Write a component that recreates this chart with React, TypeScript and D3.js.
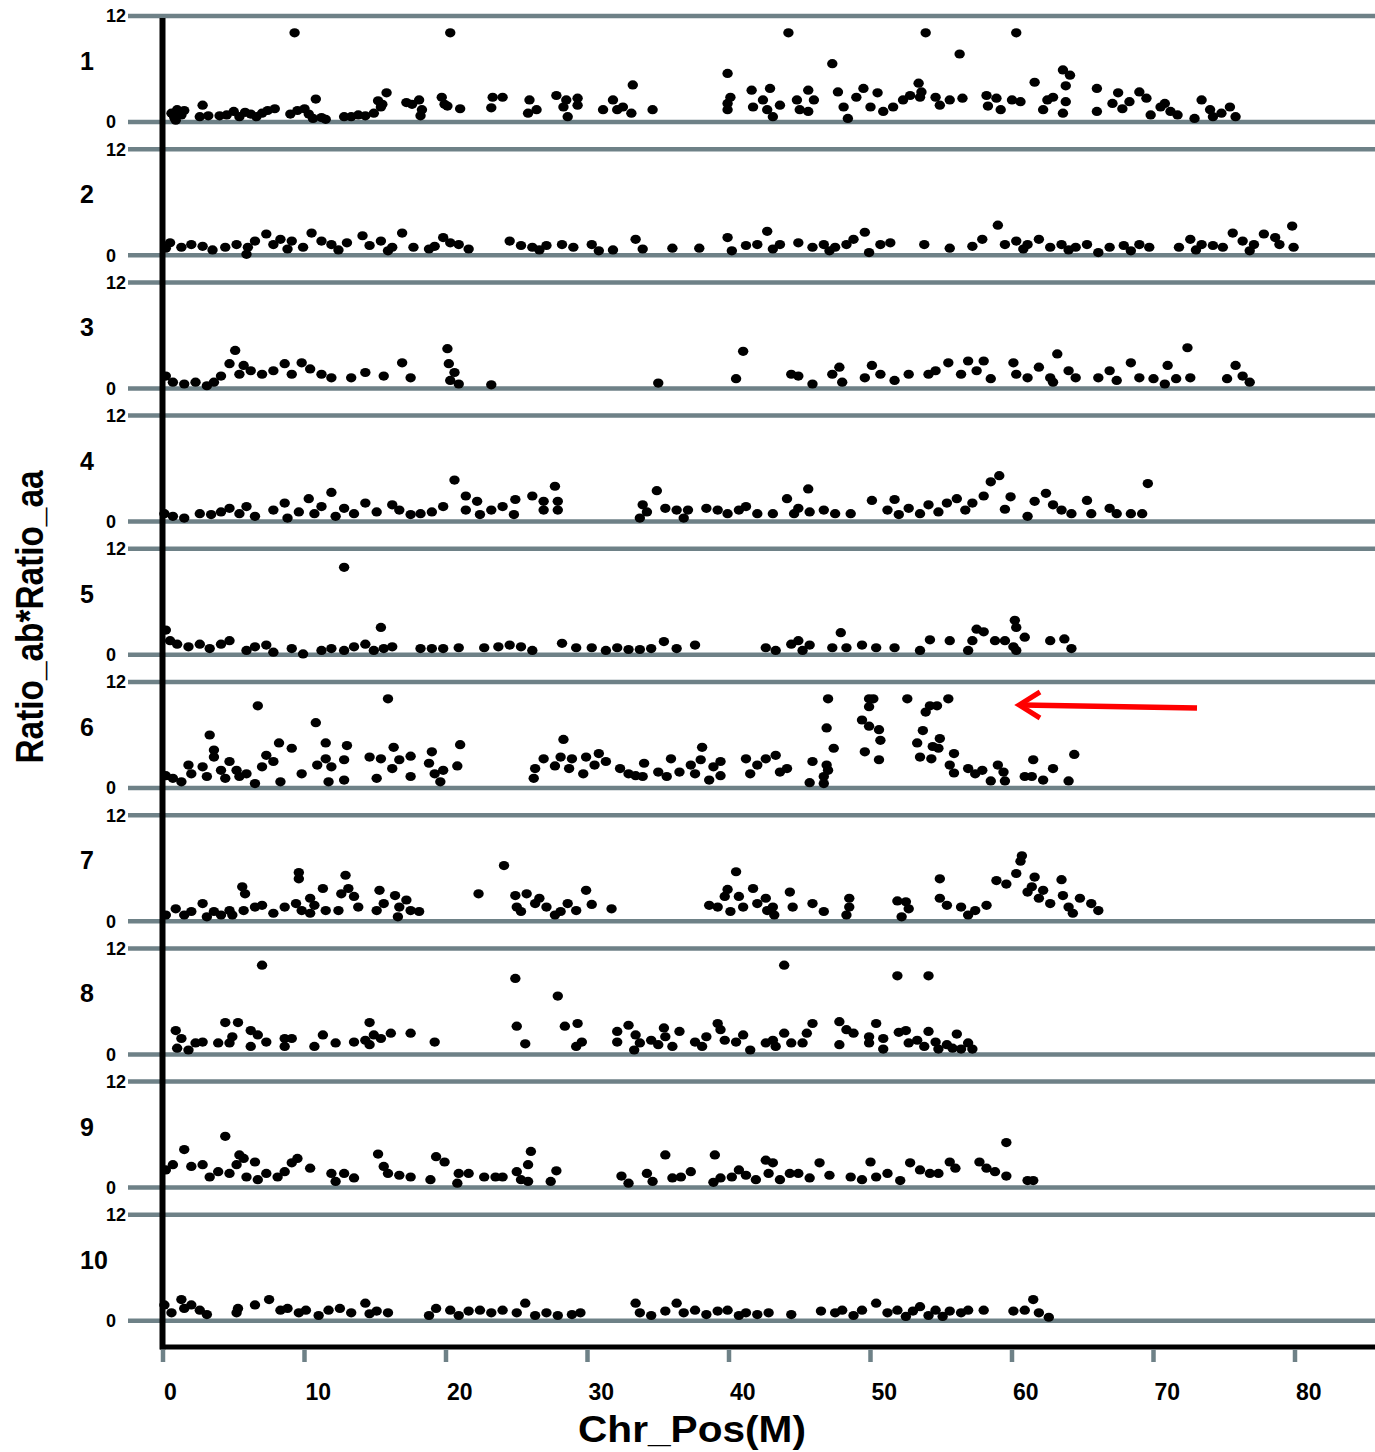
import React from "react";
import * as d3 from "d3";

// chromosome panels: [position (M), Ratio_ab*Ratio_aa]
const chr1: [number, number][] = [
  [0.6, 1.0], [0.8, 0.5], [1.0, 1.4], [1.3, 0.8], [1.5, 1.3], [0.9, 0.2], [2.8, 1.9], [2.6, 0.6], [3.2, 0.7],
  [4.0, 0.7], [4.5, 0.8], [5.0, 1.2], [5.4, 0.6], [5.8, 1.1], [6.2, 0.9], [6.6, 0.6], [7.0, 1.0], [7.4, 1.3], [7.9, 1.5],
  [9.0, 0.9], [9.3, 10.1], [9.5, 1.3], [10.0, 1.5], [10.3, 0.9], [10.6, 0.4], [10.8, 2.6], [11.2, 0.5], [11.5, 0.3],
  [12.8, 0.6], [13.3, 0.6], [13.8, 0.8], [14.3, 0.7], [14.9, 1.0], [15.2, 2.4], [15.4, 1.7], [15.8, 3.3], [15.5, 2.0],
  [17.2, 2.2], [17.6, 2.0], [18.1, 2.5], [18.3, 1.4], [18.2, 0.7], [19.7, 2.8], [19.9, 2.0], [20.1, 1.8], [20.3, 10.1], [21.0, 1.5],
  [23.3, 2.8], [24.0, 2.8], [23.2, 1.6], [25.9, 2.5], [25.8, 1.0], [26.4, 1.4], [27.8, 3.0], [28.5, 2.5], [29.3, 2.7],
  [28.6, 0.6], [28.3, 1.7], [29.3, 1.9], [31.1, 1.4], [31.8, 2.5], [32.5, 1.7], [33.2, 4.2], [33.1, 1.0], [32.1, 1.4], [34.6, 1.4],
  [39.9, 5.5], [40.1, 2.8], [39.9, 1.4], [39.9, 2.1], [41.6, 3.6], [41.7, 1.7], [42.4, 2.5], [42.9, 3.8], [43.1, 0.6], [43.6, 1.9],
  [42.7, 1.4], [44.2, 10.1], [44.8, 2.5], [45.0, 1.4], [45.6, 3.6], [46.0, 2.5], [45.6, 1.2], [47.3, 6.6], [47.7, 3.4], [48.1, 1.7],
  [48.4, 0.4], [49.0, 2.8], [49.5, 3.8], [50.0, 1.7], [50.5, 3.3], [50.9, 1.2], [51.6, 1.7], [52.3, 2.5], [52.8, 3.0], [53.4, 4.4],
  [53.6, 3.4], [53.9, 10.1], [56.3, 7.7], [60.3, 10.1], [53.5, 2.8], [54.6, 2.8], [54.9, 1.9], [55.6, 2.5], [56.5, 2.7],
  [58.2, 3.0], [58.3, 1.8], [58.9, 2.7], [59.2, 1.4], [60.0, 2.5], [60.6, 2.3], [61.6, 4.5], [62.2, 1.4], [62.5, 2.5], [62.9, 2.8],
  [63.6, 5.9], [64.1, 5.3], [63.8, 4.1], [63.8, 2.3], [63.6, 1.0], [66.0, 3.8], [66.0, 1.2], [67.1, 2.1], [67.5, 3.3], [67.8, 1.5],
  [68.3, 2.3], [69.0, 3.4], [69.5, 2.7], [69.8, 0.8], [70.5, 1.7], [70.8, 2.1], [71.2, 1.2], [71.7, 0.8], [72.9, 0.4], [73.4, 2.5],
  [74.0, 1.4], [74.2, 0.6], [74.8, 1.0], [75.4, 1.7], [75.8, 0.6],
];

const chr2: [number, number][] = [
  [0.5, 1.4], [1.3, 0.9], [2.0, 1.2], [2.8, 1.0], [4.4, 0.9], [5.2, 1.2], [5.9, 0.1], [6.5, 1.6], [7.3, 2.4], [7.8, 1.2],
  [8.3, 1.8], [9.1, 1.6], [9.9, 0.9], [10.5, 2.5], [11.2, 1.6], [11.9, 1.2], [13.0, 1.4], [14.1, 2.2], [14.6, 1.1], [15.4, 1.6],
  [16.2, 0.9], [16.9, 2.5], [17.7, 0.9], [18.8, 0.7], [19.8, 2.0], [20.3, 1.4], [20.9, 1.2], [21.6, 0.7], [24.5, 1.6], [25.3, 1.1],
  [26.1, 0.9], [27.1, 1.1], [28.2, 1.2], [29.0, 0.9], [30.3, 1.2], [30.8, 0.5], [31.8, 0.6], [33.4, 1.8], [33.9, 0.7], [36.0, 0.8],
  [37.9, 0.8], [39.9, 2.0], [40.2, 0.5], [41.2, 1.1], [42.0, 1.2], [42.7, 2.7], [43.6, 1.2], [44.9, 1.4], [45.9, 0.9], [46.7, 1.2],
  [47.5, 0.9], [48.3, 1.2], [48.8, 1.8], [49.6, 2.6], [49.9, 0.3], [50.7, 1.2], [51.4, 1.4], [53.8, 1.2], [55.6, 0.8], [57.2, 1.0],
  [57.9, 1.8], [59.0, 3.4], [59.5, 1.2], [60.3, 1.6], [61.1, 1.2], [61.9, 1.8], [62.7, 0.9], [63.5, 1.2], [64.5, 0.9], [65.3, 1.2],
  [66.1, 0.3], [66.9, 0.9], [67.9, 1.1], [69.0, 1.2], [69.7, 0.9], [71.8, 0.9], [72.6, 1.8], [73.4, 1.2], [74.2, 1.1], [74.9, 0.9],
  [75.6, 2.5], [76.3, 1.6], [77.1, 1.2], [77.8, 2.4], [78.6, 2.0], [78.9, 1.2], [79.8, 3.3], [79.9, 0.9],
  [0.2, 0.8], [3.5, 0.6], [6.0, 0.9], [8.8, 0.7], [12.4, 0.6], [15.9, 0.5], [19.2, 1.0], [26.6, 0.6], [43.1, 0.7], [47.1, 0.5],
  [60.8, 0.7], [64.0, 0.6], [68.4, 0.5], [73.0, 0.6], [76.8, 0.5],
];

const chr3: [number, number][] = [
  [0.2, 1.4], [0.7, 0.7], [1.5, 0.5], [2.3, 0.7], [3.1, 0.3], [3.6, 0.7], [4.1, 1.4], [4.7, 2.8], [5.1, 4.3], [5.4, 1.6],
  [5.7, 2.6], [6.2, 2.0], [7.0, 1.6], [7.8, 2.0], [8.6, 2.8], [9.1, 1.6], [9.8, 2.9], [10.4, 2.2], [11.2, 1.6], [11.9, 1.2],
  [13.3, 1.2], [14.3, 1.8], [15.6, 1.4], [16.9, 2.9], [17.5, 1.2], [20.1, 4.5], [20.2, 2.8], [20.6, 1.8], [20.3, 0.9], [20.9, 0.5],
  [23.2, 0.4], [35.0, 0.6], [41.0, 4.2], [40.5, 1.1], [44.4, 1.6], [44.9, 1.4], [45.9, 0.5], [47.3, 1.6], [47.8, 2.4], [48.0, 0.7],
  [49.6, 1.2], [50.1, 2.6], [50.7, 1.6], [51.7, 0.9], [52.7, 1.6], [54.1, 1.6], [54.6, 2.0], [55.5, 2.9], [56.4, 1.6], [56.9, 3.1],
  [58.0, 3.1], [57.5, 2.0], [58.5, 1.1], [60.1, 2.9], [60.3, 1.6], [61.1, 1.2], [61.9, 2.4], [62.7, 1.2], [63.2, 3.9], [62.9, 0.7],
  [64.0, 2.0], [64.5, 1.2], [66.1, 1.2], [66.9, 2.0], [67.4, 0.9], [68.4, 2.9], [69.0, 1.2], [70.0, 1.1], [71.0, 2.6], [70.8, 0.5],
  [71.6, 1.1], [72.4, 4.6], [72.6, 1.2], [75.2, 1.1], [75.8, 2.6], [76.3, 1.4], [76.8, 0.7],
];

const chr4: [number, number][] = [
  [0.1, 0.9], [0.7, 0.6], [1.5, 0.4], [2.6, 0.9], [3.4, 0.8], [4.1, 1.1], [4.7, 1.5], [5.4, 0.9], [5.9, 1.7], [6.5, 0.6],
  [7.8, 1.3], [8.6, 2.1], [8.8, 0.4], [9.6, 1.1], [10.3, 2.6], [10.7, 0.9], [11.2, 1.7], [11.9, 3.3], [12.2, 0.6], [12.8, 1.5],
  [13.5, 0.9], [14.3, 2.1], [15.1, 1.1], [16.2, 1.9], [16.7, 1.3], [17.5, 0.8], [18.2, 0.9], [19.0, 1.1], [19.8, 1.7], [20.6, 4.7],
  [21.4, 2.9], [21.4, 1.3], [22.2, 2.3], [22.4, 0.8], [23.2, 1.3], [24.0, 1.7], [24.9, 2.5], [24.8, 0.8], [26.1, 2.9], [26.9, 2.3],
  [26.9, 1.3], [27.7, 4.0], [27.9, 2.3], [27.9, 1.3], [33.7, 0.4], [33.9, 1.9], [34.2, 1.1], [34.9, 3.5], [35.5, 1.5], [36.3, 1.3],
  [36.8, 0.4], [37.1, 1.3], [38.4, 1.5], [39.2, 1.3], [39.9, 0.9], [40.7, 1.3], [41.2, 1.7], [42.0, 0.9], [43.1, 0.9], [44.1, 2.6],
  [44.6, 0.9], [44.9, 1.5], [45.6, 3.7], [45.7, 1.1], [46.7, 1.3], [47.5, 0.9], [48.6, 0.9], [50.1, 2.4], [51.2, 1.3], [51.7, 2.5],
  [52.0, 0.8], [52.7, 1.5], [53.5, 0.9], [54.1, 1.9], [54.8, 1.1], [55.4, 2.1], [56.1, 2.6], [56.7, 1.3], [57.2, 2.1], [58.0, 2.9],
  [58.5, 4.5], [59.1, 5.2], [59.5, 1.4], [59.9, 2.8], [61.1, 0.6], [61.6, 2.3], [62.4, 3.2], [62.9, 1.9], [63.5, 1.3], [64.2, 0.9],
  [65.3, 2.4], [65.6, 0.9], [66.9, 1.5], [67.4, 0.9], [68.4, 0.9], [69.2, 0.9], [69.6, 4.3],
];

const chr5: [number, number][] = [
  [0.2, 2.8], [0.5, 1.6], [1.0, 1.2], [1.8, 0.9], [2.6, 1.2], [3.3, 0.7], [4.1, 1.2], [4.7, 1.6], [5.9, 0.5], [6.5, 0.9],
  [7.3, 1.1], [7.8, 0.3], [9.1, 0.7], [9.9, 0.1], [11.2, 0.5], [11.9, 0.7], [12.8, 9.9], [12.8, 0.5], [13.5, 0.9], [14.3, 1.2],
  [14.9, 0.5], [15.4, 3.1], [15.6, 0.7], [16.2, 0.9], [18.2, 0.7], [19.0, 0.7], [19.8, 0.7], [20.9, 0.8], [22.7, 0.8], [23.7, 0.9],
  [24.5, 1.1], [25.3, 0.9], [26.1, 0.5], [28.2, 1.3], [29.2, 0.8], [30.3, 0.8], [31.3, 0.5], [32.1, 0.8], [32.9, 0.6], [33.7, 0.6],
  [34.5, 0.7], [35.4, 1.5], [36.3, 0.7], [37.6, 1.1], [42.6, 0.8], [43.3, 0.5], [44.4, 1.2], [44.9, 1.6], [45.2, 0.5], [45.7, 1.1],
  [47.3, 0.8], [47.9, 2.5], [48.3, 0.8], [49.4, 1.1], [50.4, 0.8], [51.7, 0.8], [53.5, 0.5], [54.2, 1.7], [55.6, 1.6], [56.9, 0.5],
  [57.2, 1.6], [57.5, 2.9], [58.0, 2.6], [58.8, 1.6], [59.5, 1.6], [60.1, 0.9], [60.2, 3.9], [60.3, 3.1], [60.9, 2.0], [60.3, 0.5],
  [62.7, 1.6], [63.7, 1.8], [64.2, 0.7],
];

const chr6: [number, number][] = [
  [0.2, 1.4], [0.7, 1.1], [1.3, 0.7], [1.8, 2.6], [2.0, 1.6], [2.8, 2.4], [3.1, 1.3], [3.3, 6.0], [3.6, 4.3], [3.6, 3.5],
  [4.1, 2.0], [4.4, 1.1], [4.7, 3.0], [5.2, 2.0], [5.4, 1.3], [5.9, 1.6], [6.5, 0.5], [6.7, 9.3], [7.0, 2.4], [7.3, 3.7],
  [7.8, 3.0], [8.2, 5.1], [8.3, 0.7], [9.1, 4.5], [9.8, 1.6], [10.8, 7.4], [10.9, 2.6], [11.5, 5.1], [11.5, 3.3], [11.7, 0.7],
  [11.9, 2.4], [12.8, 3.2], [12.8, 0.9], [13.0, 4.8], [14.6, 3.5], [15.1, 1.1], [15.4, 3.3], [15.9, 10.1], [16.2, 2.2], [16.3, 4.6],
  [16.7, 3.2], [17.5, 3.6], [17.5, 1.3], [18.8, 2.8], [19.0, 4.1], [19.2, 1.6], [19.6, 0.7], [19.8, 2.0], [20.8, 2.5], [21.0, 4.9],
  [26.2, 1.1], [26.3, 2.2], [26.9, 3.3], [27.7, 2.5], [28.3, 5.5], [28.1, 3.5], [28.7, 2.2], [28.9, 3.3], [29.7, 1.6], [29.9, 3.5],
  [30.5, 2.6], [30.8, 3.9], [31.3, 3.0], [32.3, 2.2], [32.9, 1.6], [33.4, 1.4], [34.0, 2.8], [33.9, 1.3], [35.0, 1.8], [35.6, 1.3],
  [35.9, 3.3], [36.5, 1.8], [37.3, 2.6], [37.6, 1.6], [38.1, 4.6], [38.0, 3.2], [38.6, 0.9], [38.9, 2.4], [39.4, 3.0], [39.4, 1.4],
  [41.2, 3.3], [41.5, 1.6], [42.0, 2.6], [42.6, 3.3], [43.3, 3.7], [43.6, 1.8], [44.1, 2.2], [45.7, 0.6], [45.9, 3.0], [46.7, 0.5],
  [46.7, 1.3], [46.9, 2.6], [47.0, 2.0], [46.9, 6.8], [47.0, 10.1], [47.4, 4.5], [49.4, 7.7], [49.6, 4.1], [49.9, 10.1], [49.9, 9.2],
  [50.2, 10.1], [49.9, 7.0], [50.6, 6.6], [50.7, 5.4], [50.6, 3.2], [52.6, 10.1], [53.3, 5.1], [53.5, 3.5], [53.7, 6.5], [53.9, 8.6],
  [54.2, 9.3], [54.3, 3.3], [54.7, 9.3], [54.4, 4.7], [54.9, 5.6], [54.8, 4.5], [55.5, 10.1], [55.9, 3.9], [55.6, 2.6], [55.9, 1.7],
  [56.9, 2.2], [57.4, 1.6], [57.9, 2.0], [58.5, 0.8], [59.0, 2.6], [59.4, 1.8], [59.5, 0.8], [60.9, 1.3], [61.4, 1.3], [61.5, 3.2],
  [62.2, 0.9], [62.9, 2.2], [64.0, 0.8], [64.4, 3.8],
];

const chr7: [number, number][] = [
  [0.2, 0.7], [0.9, 1.4], [1.5, 0.7], [2.0, 1.1], [2.8, 2.0], [3.1, 0.5], [3.6, 1.1], [4.1, 0.7], [4.7, 1.2], [4.9, 0.7],
  [5.6, 3.9], [5.8, 3.1], [5.7, 1.2], [6.5, 1.6], [7.0, 1.8], [7.8, 0.9], [8.6, 1.6], [9.4, 2.0], [9.6, 5.5], [9.6, 4.8],
  [9.8, 1.2], [10.4, 2.6], [10.4, 0.9], [10.7, 1.8], [11.3, 3.7], [11.5, 1.2], [12.4, 1.2], [12.6, 3.1], [12.9, 5.2], [13.1, 3.7],
  [13.5, 2.8], [13.8, 1.6], [15.3, 3.5], [15.1, 1.2], [15.6, 2.0], [16.4, 2.9], [16.6, 0.5], [16.7, 1.6], [17.2, 2.4], [17.5, 1.2],
  [18.1, 1.1], [22.3, 3.1], [24.1, 6.3], [24.9, 2.9], [25.0, 1.6], [25.3, 1.1], [25.7, 3.1], [26.3, 2.0], [26.6, 2.6], [27.1, 1.6],
  [27.7, 0.7], [28.1, 1.1], [28.6, 2.0], [29.2, 1.2], [29.9, 3.5], [30.3, 1.9], [31.7, 1.4], [38.6, 1.8], [39.2, 1.6], [39.7, 2.8],
  [39.9, 3.6], [40.1, 1.1], [40.5, 5.6], [40.7, 2.8], [41.0, 1.6], [41.7, 3.7], [42.0, 2.0], [42.6, 2.6], [42.7, 1.2], [43.2, 0.7],
  [43.1, 1.6], [44.3, 3.3], [44.5, 1.6], [45.9, 2.0], [46.7, 1.1], [48.5, 2.6], [48.5, 1.6], [48.3, 0.7], [51.9, 2.3], [52.5, 2.2],
  [52.2, 0.5], [52.7, 1.4], [54.9, 4.8], [54.9, 2.6], [55.4, 1.8], [56.4, 1.6], [56.9, 0.7], [57.4, 1.2], [58.2, 1.8], [58.9, 4.6],
  [59.6, 4.2], [60.3, 5.4], [60.6, 6.8], [60.7, 7.4], [61.1, 3.3], [61.6, 5.0], [61.4, 3.9], [61.9, 2.6], [62.2, 3.5], [62.7, 2.0],
  [63.5, 4.7], [63.6, 2.9], [64.0, 1.6], [64.3, 0.9], [64.8, 2.6], [65.6, 2.0], [66.1, 1.2],
];

const chr8: [number, number][] = [
  [0.9, 2.7], [1.3, 1.8], [1.0, 0.7], [1.8, 0.5], [2.3, 1.3], [2.8, 1.4], [3.9, 1.3], [4.4, 3.6], [4.9, 2.0], [4.7, 1.3],
  [5.3, 3.6], [6.2, 2.7], [6.2, 0.9], [6.7, 2.2], [7.0, 10.1], [7.3, 1.4], [8.6, 1.8], [8.6, 0.9], [9.1, 1.8], [10.7, 0.9],
  [11.3, 2.2], [12.2, 1.3], [13.5, 1.4], [14.3, 1.6], [14.6, 3.6], [14.9, 2.2], [14.6, 1.1], [15.4, 1.8], [16.1, 2.4], [17.5, 2.4],
  [19.2, 1.4], [24.9, 8.6], [25.0, 3.2], [25.6, 1.2], [27.9, 6.6], [28.4, 3.2], [29.3, 3.5], [29.2, 0.9], [29.6, 1.4], [32.1, 2.6],
  [32.1, 1.4], [32.9, 3.3], [33.3, 0.5], [33.4, 2.2], [33.7, 1.3], [34.5, 1.6], [35.0, 1.1], [35.4, 3.0], [35.5, 2.0], [36.0, 0.9],
  [36.5, 2.6], [37.6, 1.4], [38.1, 0.9], [38.4, 2.0], [39.2, 3.5], [39.4, 2.8], [39.7, 1.6], [40.5, 1.4], [41.0, 2.2], [41.5, 0.5],
  [42.6, 1.3], [43.1, 1.6], [43.3, 0.9], [43.9, 10.1], [43.9, 2.4], [44.4, 1.3], [45.2, 1.3], [45.5, 2.4], [45.9, 3.5], [47.8, 3.7],
  [47.8, 1.1], [48.3, 2.8], [48.8, 2.4], [49.9, 2.0], [49.9, 1.3], [50.4, 3.5], [50.9, 1.8], [50.9, 0.6], [51.9, 8.9], [52.0, 2.5],
  [52.5, 2.7], [52.7, 1.3], [53.3, 1.6], [54.1, 8.9], [54.1, 2.6], [53.8, 0.9], [54.6, 1.4], [54.8, 0.6], [55.4, 1.1], [55.8, 0.7],
  [56.1, 2.3], [56.4, 0.6], [56.9, 1.3], [57.2, 0.6],
];

const chr9: [number, number][] = [
  [0.2, 2.0], [0.7, 2.6], [1.5, 4.3], [2.0, 2.4], [2.8, 2.6], [3.3, 1.2], [3.9, 1.8], [4.4, 5.8], [4.7, 1.6], [5.2, 2.6],
  [5.4, 3.7], [5.7, 3.3], [5.9, 1.2], [6.5, 2.9], [6.7, 0.9], [7.3, 1.6], [8.1, 1.2], [8.6, 1.8], [9.1, 2.8], [9.5, 3.3],
  [10.4, 2.2], [11.9, 1.6], [12.2, 0.7], [12.8, 1.6], [13.5, 1.1], [15.2, 3.8], [15.6, 2.4], [15.9, 1.6], [16.7, 1.4], [17.5, 1.2],
  [18.9, 0.9], [19.3, 3.5], [19.9, 2.9], [20.8, 0.5], [20.9, 1.6], [21.6, 1.6], [22.7, 1.2], [23.5, 1.2], [24.0, 1.2], [25.0, 1.8],
  [25.3, 0.9], [25.8, 2.6], [26.0, 4.1], [25.8, 0.7], [27.4, 0.7], [27.8, 1.9], [32.4, 1.3], [32.9, 0.5], [34.2, 1.6], [34.6, 0.7],
  [35.5, 3.7], [36.0, 1.1], [36.6, 1.2], [37.3, 1.8], [38.9, 0.6], [39.0, 3.7], [39.4, 1.1], [40.2, 1.2], [40.7, 2.0], [41.2, 1.4],
  [41.9, 0.9], [42.6, 3.1], [43.1, 2.8], [42.8, 1.6], [43.6, 0.9], [44.3, 1.6], [44.9, 1.6], [45.7, 1.1], [46.4, 2.8], [47.1, 1.4],
  [48.6, 1.2], [49.4, 0.9], [50.0, 2.9], [50.4, 1.2], [51.2, 1.6], [52.1, 0.8], [52.8, 2.8], [53.5, 2.0], [54.2, 1.6], [54.8, 1.6],
  [55.6, 2.9], [56.0, 2.2], [57.7, 2.9], [58.2, 2.2], [58.8, 1.8], [59.6, 5.1], [59.6, 1.3], [61.1, 0.8], [61.5, 0.8],
];

const chr10: [number, number][] = [
  [0.1, 1.8], [0.6, 0.9], [1.3, 2.4], [1.5, 1.4], [2.0, 1.8], [2.6, 1.2], [3.1, 0.7], [5.2, 0.9], [5.3, 1.4], [6.5, 1.8],
  [7.5, 2.4], [8.3, 1.2], [8.8, 1.4], [9.6, 0.9], [10.1, 1.2], [11.0, 0.6], [11.7, 1.2], [12.5, 1.4], [13.3, 0.9], [14.3, 2.0],
  [14.6, 0.8], [15.1, 1.1], [15.9, 0.9], [18.8, 0.6], [19.3, 1.4], [20.3, 1.2], [20.9, 0.6], [21.6, 1.1], [22.4, 1.2], [23.2, 0.9],
  [24.0, 1.2], [25.0, 0.9], [25.6, 2.0], [26.3, 0.6], [27.1, 0.9], [27.9, 0.6], [28.9, 0.7], [29.5, 0.9], [33.4, 2.0], [33.7, 0.9],
  [34.5, 0.6], [35.5, 1.1], [36.3, 2.0], [36.8, 0.9], [37.6, 1.2], [38.4, 0.7], [39.2, 1.1], [39.9, 1.2], [40.7, 0.6], [41.2, 0.9],
  [42.0, 0.7], [42.8, 0.9], [44.4, 0.7], [46.5, 1.1], [47.5, 0.9], [48.0, 1.2], [48.8, 0.6], [49.4, 1.2], [50.4, 2.0], [51.2, 0.9],
  [51.9, 1.2], [52.5, 0.5], [53.0, 1.1], [53.5, 1.6], [54.1, 0.6], [54.6, 1.2], [55.1, 0.5], [55.6, 1.1], [56.4, 0.9], [56.9, 1.2],
  [58.0, 1.2], [60.1, 1.1], [60.9, 1.2], [61.5, 2.4], [61.9, 0.9], [62.6, 0.4],
];

const CHROMS = [chr1, chr2, chr3, chr4, chr5, chr6, chr7, chr8, chr9, chr10];
const CHROM_LABELS = ["1", "2", "3", "4", "5", "6", "7", "8", "9", "10"];
const X_TICKS = [0, 10, 20, 30, 40, 50, 60, 70, 80];
const Y_TICKS = [0, 12];

const WIDTH = 1375;
const HEIGHT = 1452;
const PANEL_TOP = 16;   // y of the "12" line in panel 1
const PANEL_H = 106;    // 12 -> 0
const PANEL_STEP = 133.2;
const GRAY = "#6e8187";
const FONT = "'Liberation Sans', Arial, sans-serif";

const App = () => {
  const xScale = d3.scaleLinear().domain([0, 80]).range([163, 1295]);
  const axisY = 1347;

  const panels = CHROMS.map((pts, i) => {
    const top = PANEL_TOP + i * PANEL_STEP;
    const yScale = d3.scaleLinear().domain([0, 12]).range([top + PANEL_H, top]);
    return (
      <g key={i}>
        {Y_TICKS.map((t) => (
          <g key={t}>
            <line x1={128} x2={WIDTH} y1={yScale(t)} y2={yScale(t)} stroke={GRAY} strokeWidth={4.5} />
            <text x={106} y={yScale(t)} dy="0.36em" fontSize={18} fontWeight="bold" fontFamily={FONT}>
              {t}
            </text>
          </g>
        ))}
        <text x={80} y={top + 45} dy="0.36em" fontSize={25} fontWeight="bold" fontFamily={FONT}>
          {CHROM_LABELS[i]}
        </text>
        {pts.map((d, j) => (
          <ellipse key={j} cx={xScale(d[0])} cy={yScale(d[1])} rx={5.2} ry={4.6} fill="#000" />
        ))}
      </g>
    );
  });

  return (
    <svg width={WIDTH} height={HEIGHT} style={{ position: "absolute", left: 0, top: 0, background: "#fff" }}>
      <rect width={WIDTH} height={HEIGHT} fill="#fff" />
      {panels}

      {/* axes */}
      <line x1={162.5} x2={162.5} y1={18} y2={axisY + 2.5} stroke="#000" strokeWidth={6} />
      <line x1={160} x2={WIDTH} y1={axisY} y2={axisY} stroke="#000" strokeWidth={5} />
      {X_TICKS.map((t) => (
        <g key={t}>
          <line x1={xScale(t)} x2={xScale(t)} y1={axisY + 2.5} y2={1362} stroke={GRAY} strokeWidth={4.5} />
          <text x={xScale(t) + 1} y={1400} fontSize={23} fontWeight="bold" fontFamily={FONT}>
            {t}
          </text>
        </g>
      ))}
      <text
        x={692}
        y={1442}
        textAnchor="middle"
        fontSize={37}
        fontWeight="bold"
        fontFamily={FONT}
        textLength={228}
        lengthAdjust="spacingAndGlyphs"
      >
        Chr_Pos(M)
      </text>
      <text
        transform="translate(43,617) rotate(-90)"
        textAnchor="middle"
        fontSize={38}
        fontWeight="bold"
        fontFamily={FONT}
        textLength={293}
        lengthAdjust="spacingAndGlyphs"
      >
        Ratio_ab*Ratio_aa
      </text>

      {/* red arrow pointing at the chr6 peak */}
      <path d="M1197,708 L1022,705" stroke="#ff0000" strokeWidth={5.5} fill="none" />
      <path d="M1040,692 L1019,705 L1040,718" stroke="#ff0000" strokeWidth={5} fill="none" strokeLinejoin="miter" />
    </svg>
  );
};

export default App;
